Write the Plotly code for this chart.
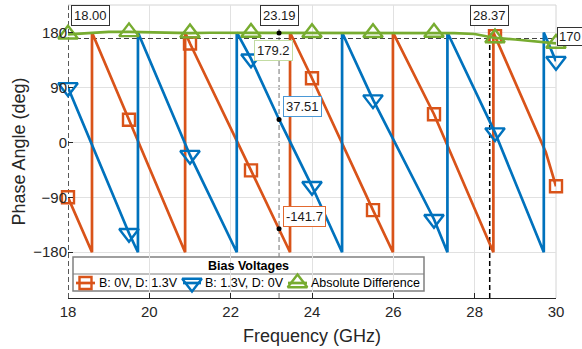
import plotly.graph_objects as go

# ---------------- data ----------------
orange_freq = [18.0, 18.59, 18.59, 19.5, 20.88, 20.88, 21.0, 22.5, 23.19, 23.46, 23.46,
               24.0, 25.5, 25.99, 25.99, 27.0, 28.46, 28.46, 28.5, 29.75, 30.0]
orange_phase = [-90, -180, 180, 37, -180, 180, 162, -46, -141.7, -180, 180,
                105, -111, -180, 180, 46, -180, 180, 174, -16, -72]

blue_freq = [18.0, 19.5, 19.72, 19.72, 21.0, 22.15, 22.15, 22.5, 23.19, 24.0, 24.74, 24.74,
             25.5, 27.0, 27.33, 27.33, 28.5, 29.7, 29.7, 30.0]
blue_phase = [90, -149, -180, 180, -21, -180, 180, 137, 37.51, -72, -180, 180,
              70, -126, -180, 180, 16, -180, 180, 133]

green_freq = [18.0, 18.5, 19.0, 19.5, 20.0, 20.5, 21.0, 21.5, 22.0, 22.5, 23.19, 24.0,
              24.5, 25.0, 25.5, 26.0, 26.5, 27.0, 27.5, 28.0, 28.37, 28.5, 29.0, 29.5, 30.0]
green_phase = [177, 179.5, 181, 181, 180, 179.5, 179, 179.5, 179.5, 180, 179.2, 179.5,
               180, 180, 179.5, 179, 180, 180, 179, 177.5, 172.5, 171, 168.5, 165, 162]

marker_freq = [18.0, 19.5, 21.0, 22.5, 24.0, 25.5, 27.0, 28.5, 30.0]

series_names = ["B: 0V, D: 1.3V", "B: 1.3V, D: 0V", "Absolute Difference"]
legend_title = "Bias Voltages"

tip_freq = [23.19, 23.19, 23.19]
tip_value = [179.2, 37.51, -141.7]
tip_labels = ["179.2", "37.51", "-141.7"]

vline_freq = [18.00, 23.19, 28.37]
vline_labels = ["18.00", "23.19", "28.37"]
hline_value = 170
hline_label = "170"

x_ticks = [18, 20, 22, 24, 26, 28, 30]
y_ticks = [-180, -90, 0, 90, 180]

# ---------------- styling / layout constants ----------------
FONT = "Liberation Sans, Arial, Helvetica, sans-serif"
C_OR = "#D95319"
C_BL = "#0072BD"
C_GR = "#77AC30"
AX = "#262626"
GRID = "#e1e1e1"
LW = 2.7
MLW = 2.4
W, H = 582, 349
ML, MR, MT, MB = 68, 26, 5, 51
PW, PH = W - ML - MR, H - MT - MB


def px2paper_x(px):
    return (px - ML) / PW


def px2paper_y(py):
    return (H - MB - py) / PH


def pick(freqs, vals):
    return ([f for f in freqs if f in marker_freq],
            [v for f, v in zip(freqs, vals) if f in marker_freq])


fig = go.Figure()

specs = [
    (orange_freq, orange_phase, C_OR, "square-open", 12),
    (blue_freq, blue_phase, C_BL, "triangle-down-open", 17),
    (green_freq, green_phase, C_GR, "triangle-up-open", 17),
]
for (fx, fy, col, sym, ms), name in zip(specs, series_names):
    fig.add_trace(go.Scatter(x=fx, y=fy, mode="lines", name=name,
                             line=dict(color=col, width=LW), showlegend=False,
                             hoverinfo="skip"))
    mx, my = pick(fx, fy)
    fig.add_trace(go.Scatter(x=mx, y=my, mode="markers", name=name,
                             marker=dict(symbol=sym, size=ms, color=col,
                                         line=dict(color=col, width=MLW)),
                             showlegend=False, cliponaxis=False, hoverinfo="skip"))

# datatip dots
fig.add_trace(go.Scatter(x=tip_freq, y=tip_value, mode="markers",
                         marker=dict(size=5, color="black"), showlegend=False,
                         hoverinfo="skip"))

# ---------------- manual legend (pixel overlay axis for swatches) ----------------
LX0, LX1, LY0, LY1, LSEP, LROW = 73, 424, 257, 291, 274, 283
legend_items = [
    (76, 95, 85.5, 97, C_OR, "square-open", 12),
    (183, 201, 192, 203, C_BL, "triangle-down-open", 17),
    (288, 307, 297.5, 309, C_GR, "triangle-up-open", 17),
]
for (x0, x1, xm, xt, col, sym, ms), name in zip(legend_items, series_names):
    fig.add_trace(go.Scatter(x=[x0, x1], y=[LROW, LROW], xaxis="x2", yaxis="y2",
                             mode="lines", line=dict(color=col, width=LW),
                             showlegend=False, hoverinfo="skip"))
    fig.add_trace(go.Scatter(x=[xm], y=[LROW], xaxis="x2", yaxis="y2", mode="markers",
                             marker=dict(symbol=sym, size=ms, color=col,
                                         line=dict(color=col, width=MLW)),
                             showlegend=False, hoverinfo="skip"))
    fig.add_annotation(x=px2paper_x(xt), y=px2paper_y(LROW), xref="paper", yref="paper",
                       text=name, showarrow=False, xanchor="left", yanchor="middle",
                       font=dict(family=FONT, size=12.5, color="#000"))
fig.add_annotation(x=px2paper_x((LX0 + LX1) / 2), y=px2paper_y((LY0 + LSEP) / 2 + 0.5),
                   xref="paper", yref="paper",
                   text="<b>" + legend_title + "</b>", showarrow=False,
                   xanchor="center", yanchor="middle",
                   font=dict(family=FONT, size=12.5, color="#000"))

shapes = []
dash = "5px,3px"
shapes.append(dict(type="line", xref="x", yref="paper", x0=vline_freq[0], x1=vline_freq[0],
                   y0=0, y1=1, line=dict(color="#000", width=1.3, dash=dash), layer="between"))
shapes.append(dict(type="line", xref="x", yref="paper", x0=vline_freq[1], x1=vline_freq[1],
                   y0=0, y1=1, line=dict(color="#8a8a8a", width=1.2, dash=dash), layer="between"))
shapes.append(dict(type="line", xref="x", yref="paper", x0=vline_freq[2], x1=vline_freq[2],
                   y0=0, y1=1, line=dict(color="#000", width=1.5, dash=dash), layer="between"))
shapes.append(dict(type="line", xref="x", yref="y", x0=18, x1=30, y0=hline_value, y1=hline_value,
                   line=dict(color="#404040", width=1.1, dash=dash), layer="between"))
shapes.append(dict(type="line", xref="paper", yref="paper", x0=0, x1=1, y0=1, y1=1,
                   line=dict(color="#d4d4d4", width=1), layer="between"))
shapes.append(dict(type="line", xref="paper", yref="paper", x0=1, x1=1, y0=0, y1=1,
                   line=dict(color="#d4d4d4", width=1), layer="between"))
# legend box
shapes.append(dict(type="rect", xref="paper", yref="paper",
                   x0=px2paper_x(LX0), x1=px2paper_x(LX1),
                   y0=px2paper_y(LY1), y1=px2paper_y(LY0),
                   fillcolor="white", line=dict(color="#808080", width=1.5), layer="between"))
shapes.append(dict(type="line", xref="paper", yref="paper",
                   x0=px2paper_x(LX0), x1=px2paper_x(LX1),
                   y0=px2paper_y(LSEP), y1=px2paper_y(LSEP),
                   line=dict(color="#808080", width=1.2), layer="between"))

# datatip labels
tipfont = dict(family=FONT, size=13, color="#1a1a1a")
fig.add_annotation(x=vline_freq[0], y=1, xref="x", yref="paper", text=vline_labels[0],
                   showarrow=False, xanchor="left", yanchor="top", xshift=3,
                   bgcolor="white", bordercolor="#333", borderwidth=1, borderpad=2, font=tipfont)
for i in (1, 2):
    fig.add_annotation(x=vline_freq[i], y=1, xref="x", yref="paper", text=vline_labels[i],
                       showarrow=False, xanchor="center", yanchor="top",
                       bgcolor="white", bordercolor="#333", borderwidth=1, borderpad=2,
                       font=tipfont)
fig.add_annotation(x=30, y=hline_value, xref="x", yref="y", text=hline_label,
                   showarrow=False, xanchor="left", yanchor="middle", xshift=1, yshift=2,
                   bgcolor="white", bordercolor="#333", borderwidth=1, borderpad=1, font=tipfont)
fig.add_annotation(x=tip_freq[0], y=tip_value[0], xref="x", yref="y", text=tip_labels[0],
                   showarrow=False, xanchor="center", yanchor="middle", xshift=-6, yshift=-18,
                   bgcolor="white", bordercolor="#c3dca3", borderwidth=1, borderpad=2,
                   font=tipfont)
fig.add_annotation(x=tip_freq[1], y=tip_value[1], xref="x", yref="y", text=tip_labels[1],
                   showarrow=False, xanchor="left", yanchor="bottom", xshift=4, yshift=2,
                   bgcolor="white", bordercolor="#4a98d6", borderwidth=1, borderpad=2,
                   font=tipfont)
fig.add_annotation(x=tip_freq[2], y=tip_value[2], xref="x", yref="y", text=tip_labels[2],
                   showarrow=False, xanchor="left", yanchor="bottom", xshift=4, yshift=2,
                   bgcolor="white", bordercolor="#e2692f", borderwidth=1, borderpad=2,
                   font=tipfont)

fig.update_layout(
    width=W, height=H,
    margin=dict(l=ML, r=MR, t=MT, b=MB, autoexpand=False),
    paper_bgcolor="white", plot_bgcolor="white",
    font=dict(family=FONT, color=AX),
    showlegend=False,
    hovermode=False,
    shapes=shapes,
    xaxis=dict(range=[18, 30], tickvals=x_ticks, ticks="inside", ticklen=5, tickwidth=1,
               tickcolor=AX, showgrid=True, gridcolor=GRID, gridwidth=1, zeroline=False,
               showline=True, linecolor=AX, linewidth=1, mirror=False, automargin=False,
               tickfont=dict(size=15, family=FONT, color=AX),
               title=dict(text="Frequency (GHz)", font=dict(size=18, family=FONT, color=AX),
                          standoff=10)),
    yaxis=dict(range=[-255, 225], tickvals=y_ticks, ticks="inside", ticklen=5, tickwidth=1,
               tickcolor=AX, showgrid=True, gridcolor=GRID, gridwidth=1, zeroline=False,
               showline=False, automargin=False, tickfont=dict(size=15, family=FONT, color=AX),
               title=dict(text="Phase Angle (deg)", font=dict(size=18, family=FONT, color=AX),
                          standoff=2)),
    xaxis2=dict(range=[ML, W - MR], overlaying="x", visible=False, anchor="y2"),
    yaxis2=dict(range=[H - MB, MT], overlaying="y", visible=False, anchor="x2"),
)

fig.write_html("out.html", config={"displayModeBar": False, "staticPlot": True},
               post_script="document.body.style.margin='0px';document.body.style.overflow='hidden';")
